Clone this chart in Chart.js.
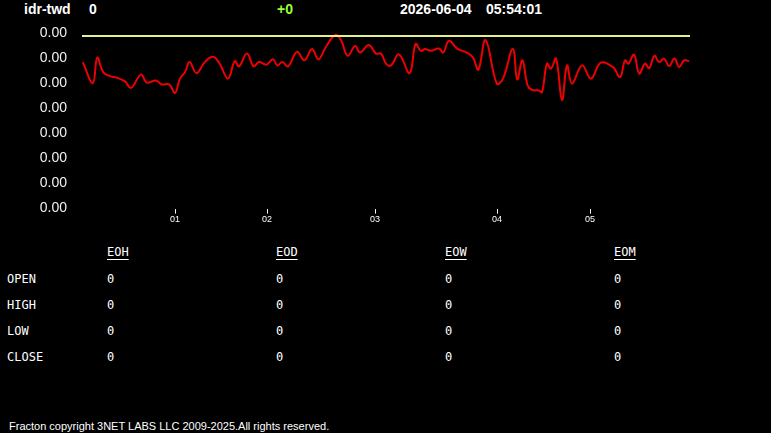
<!DOCTYPE html>
<html>
<head>
<meta charset="utf-8">
<script src="https://cdn.jsdelivr.net/npm/chart.js@4"></script>
<style>
  body { margin: 0; background: #000; width: 771px; height: 433px; overflow: hidden; position: relative; color: #fff; }
  .hdr { position: absolute; top: 1px; font: bold 14px "Liberation Sans", Arial, sans-serif; color: #fff; }
  #chartBox { position: absolute; left: 0; top: 0; width: 771px; height: 232px; }
  .tbl { position: absolute; font: 12px "DejaVu Sans Mono", monospace; color: #fff; }
  .tbl.head { text-decoration: underline; text-underline-offset: 3px; }
  #footer { position: absolute; left: 9px; top: 420px; font: 11px "Liberation Sans", Arial, sans-serif; color: #fff; }
</style>
</head>
<body>
<div class="hdr" style="left:24px">idr-twd</div>
<div class="hdr" style="left:89px">0</div>
<div class="hdr" style="left:277px;color:#99ff33">+0</div>
<div class="hdr" style="left:400px">2026-06-04</div>
<div class="hdr" style="left:486px">05:54:01</div>
<div id="chartBox"><canvas id="rateChart"></canvas></div>
<div id="table"></div>
<div id="footer">Fracton copyright 3NET LABS LLC 2009-2025.All rights reserved.</div>
<script>
// price series (x = bar position, y in units of 0.0001)
const xPos = [0.2, 2.7, 3.8, 5.3, 7.0, 8.7, 10.75, 12.25, 14.75, 16.2, 18.5, 19.9, 21.8, 23.25,
  24.5, 25.75, 26.9, 28.6, 30.7, 32.75, 34.4, 36.5, 38.2, 39.25, 41.25, 42.9, 44.25, 46.1,
  47.75, 48.8, 50.1, 51.5, 53.75, 55.6, 57.5, 59.1, 61, 63.3, 64.75, 66.4, 68.3, 69.5, 71.7,
  73.5, 74.75, 76, 77.25, 79.25, 81.9, 83.4, 84.7, 85.75, 87.2, 89.25, 90.3, 91.75, 93.8,
  96.3, 97.75, 99.1, 100.9, 103.7, 105.25, 107.7, 108.8, 110.1, 111.4, 112.5, 114.2, 115,
  116.25, 117.25, 118.5, 120, 121.25, 122.5, 125, 127.25, 129.7, 132.75, 134.5, 135.75,
  136.6, 138, 139.3, 140.75, 141.8, 143.1, 144.3, 145.5, 146.8, 148.1, 149.3, 150.5, 151.8];
const prices = [5.84, 5.00, 6.02, 5.44, 5.28, 5.22, 5.07, 4.81, 5.34, 5.02, 5.11, 4.95, 4.95, 4.61,
  5.18, 5.44, 5.84, 5.40, 5.84, 6.05, 5.78, 5.18, 5.88, 5.67, 6.18, 5.67, 5.84, 5.74,
  5.95, 5.71, 5.84, 5.67, 6.25, 5.91, 6.36, 5.95, 6.45, 6.92, 6.72, 6.09, 6.48, 6.22, 6.52,
  6.18, 6.18, 5.78, 5.71, 6.15, 5.40, 6.56, 6.29, 6.36, 6.29, 6.38, 6.22, 6.69, 6.38,
  6.21, 6.02, 5.54, 6.72, 4.98, 5.18, 6.36, 5.15, 5.91, 4.91, 4.73, 4.71, 4.64,
  5.78, 5.58, 5.98, 4.33, 5.71, 4.98, 5.71, 5.18, 5.82, 5.64, 5.24, 5.91,
  5.78, 6.14, 5.38, 5.78, 5.60, 6.09, 5.84, 5.98, 5.68, 5.98, 5.64, 5.91, 5.87];
const refLevel = 6.88;
const xRange = [0, 152];

// x axis day labels
const tickPos = [23.25, 46.25, 73.25, 103.75, 127];
const tickLabels = ['01', '02', '03', '04', '05'];

// summary table
const colLabels = ['EOH', 'EOD', 'EOW', 'EOM'];
const rowLabels = ['OPEN', 'HIGH', 'LOW', 'CLOSE'];
const tableValues = [
  [0, 0, 0, 0],
  [0, 0, 0, 0],
  [0, 0, 0, 0],
  [0, 0, 0, 0]
];

const colX = [107, 276, 445, 614];
const rowY = [272, 298, 324, 350];
let html = '';
colLabels.forEach((c, j) => {
  html += '<div class="tbl head" style="left:' + colX[j] + 'px;top:245px">' + c + '</div>';
});
rowLabels.forEach((r, i) => {
  html += '<div class="tbl" style="left:7px;top:' + rowY[i] + 'px">' + r + '</div>';
  tableValues[i].forEach((v, j) => {
    html += '<div class="tbl" style="left:' + colX[j] + 'px;top:' + rowY[i] + 'px">' + v + '</div>';
  });
});
document.getElementById('table').innerHTML = html;

const priceData = xPos.map((x, k) => ({ x: x, y: prices[k] }));
const refData = [{ x: xRange[0], y: refLevel }, { x: xRange[1], y: refLevel }];

const ctx = document.getElementById('rateChart').getContext('2d');
new Chart(ctx, {
  type: 'line',
  data: {
    datasets: [{
      data: refData,
      borderColor: '#e4ef8f',
      borderWidth: 2,
      pointRadius: 0,
      tension: 0
    }, {
      data: priceData,
      borderColor: '#ee0000',
      borderWidth: 2,
      pointRadius: 0,
      tension: 0.4
    }]
  },
  options: {
    animation: false,
    responsive: true,
    maintainAspectRatio: false,
    layout: { padding: { top: 33, right: 81, left: 0, bottom: 0 } },
    plugins: { legend: { display: false }, tooltip: { enabled: false } },
    scales: {
      x: {
        type: 'linear',
        min: xRange[0],
        max: xRange[1],
        afterBuildTicks: (s) => { s.ticks = tickPos.map(v => ({ value: v })); },
        ticks: {
          color: '#fff',
          font: { family: 'Liberation Sans', size: 9 },
          padding: 1,
          maxRotation: 0,
          autoSkip: false,
          callback: (v) => tickLabels[tickPos.indexOf(v)]
        },
        grid: { drawOnChartArea: false, drawTicks: true, tickLength: 5, color: '#fff' },
        border: { display: false }
      },
      y: {
        min: 0,
        max: 7,
        afterFit: (s) => { s.width = 82; },
        ticks: {
          stepSize: 1,
          color: '#f0f0f0',
          font: { family: 'Liberation Sans', size: 14 },
          padding: 15,
          callback: (v) => (v / 10000).toFixed(2)
        },
        grid: { display: false, drawTicks: false },
        border: { display: false }
      }
    }
  }
});
</script>
</body>
</html>
